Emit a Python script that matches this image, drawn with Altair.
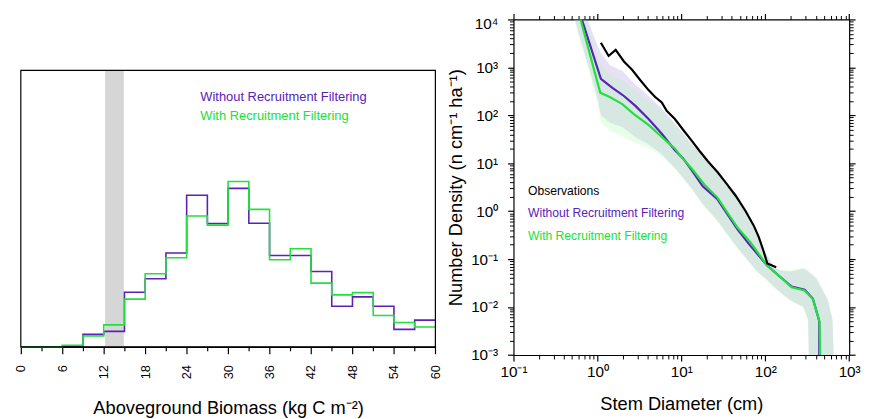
import altair as alt
import pandas as pd

FONT = "Liberation Sans"
PURPLE = "#5a22b8"
GREEN = "#20e03c"

# ---------------- left panel: aboveground biomass histogram ----------------
bin_left = [0, 3, 6, 9, 12, 15, 18, 21, 24, 27, 30, 33, 36, 39, 42, 45, 48, 51, 54, 57]
agb_without = [0, 0, 0.02, 0.90, 1.12, 3.95, 4.92, 6.78, 10.96, 8.92, 11.46, 8.94,
               6.61, 6.61, 5.45, 2.93, 3.61, 2.93, 1.26, 1.93]
agb_with = [0, 0, 0.12, 0.78, 1.59, 3.45, 5.28, 6.44, 9.46, 8.80, 11.96, 9.94,
            6.30, 7.09, 4.61, 3.76, 3.92, 2.26, 1.76, 1.43]
bin_right_edge = 60
obs_range = [12.2, 14.9]
frame_top = 20          # top of the histogram frame (value units)
left_domain_top = 23.68  # panel extends above the frame to line up with the right panel

# ---------------- right panel: size distribution ----------------
obs_d = [1.10, 1.36, 1.65, 2.07, 2.59, 3.25, 4.07, 4.88, 5.85, 6.69, 8.38, 10.5,
         13.2, 16.5, 20.7, 27.1, 34, 44.4, 58.4, 73, 84, 95, 106, 135]
obs_n = [3260, 1730, 2310, 1330, 893, 540, 336, 241, 185, 124, 83.8, 50,
         30, 18, 11, 6.5, 3.9, 2.1, 1.0, 0.5, 0.285, 0.15, 0.081, 0.068]

wo_d = [0.604, 1.10, 1.51, 2.07, 2.84, 4.07, 5.85, 8.38, 10.5, 13.2, 18.0, 27.1,
        32.4, 46.5, 63.7, 104.7, 150, 206, 295, 370, 440, 440]
wo_n = [15300, 574, 375, 253, 157, 83.8, 41.2, 18.7, 12.6, 7.26, 3.30, 1.75,
        1.09, 0.424, 0.208, 0.0747, 0.043, 0.0268, 0.0229, 0.0149, 0.0051, 0.0006]

w_d = [0.59, 1.08, 1.38, 1.98, 2.72, 4.07, 5.85, 8.38, 10.0, 13.2, 18.9, 27.1,
       32.4, 46.5, 66.5, 104.7, 150, 206, 295, 370, 444, 452]
w_n = [15300, 297, 245, 171, 106, 63.1, 35.2, 20.2, 13.6, 7.85, 3.57, 1.90,
       1.18, 0.459, 0.225, 0.0747, 0.043, 0.0259, 0.0222, 0.0146, 0.00487, 0.0006]

band_d = [0.5, 0.65, 0.8, 1.0, 1.1, 1.4, 2.0, 2.8, 4.0, 5.8, 8.4, 13, 18, 27, 46,
          64, 80, 100, 126, 150, 197, 283, 324, 335, 405, 556, 632, 670]
wo_lo = [16000, 3160, 933, 224, 100, 70.8, 56.2, 35.5, 25.1, 15.8, 7.94, 3.16, 1.41,
         0.631, 0.178, 0.0891, 0.0562, 0.0398, 0.0269, 0.0209, 0.0141, 0.0102, 0.0055,
         0.0003, 0.0003, 0.0003, 0.0003, 0.0003]
wo_hi = [100000, 25100, 7940, 2820, 2000, 1120, 832, 447, 263, 141, 67.6, 26.9, 14.1,
         6.31, 2.24, 0.891, 0.355, 0.141, 0.0708, 0.0589, 0.055, 0.0631, 0.0562,
         0.0525, 0.0398, 0.0141, 0.0055, 0.0003]
w_lo = [14100, 2820, 794, 186, 70.8, 47.9, 35.5, 26.3, 21.4, 14.1, 7.59, 3.02, 1.35,
        0.603, 0.17, 0.0851, 0.0537, 0.038, 0.0257, 0.02, 0.0135, 0.0098, 0.00525,
        0.0003, 0.0003, 0.0003, 0.0003, 0.0003]
w_hi = [79400, 20000, 6310, 1580, 1120, 708, 525, 316, 209, 126, 63.1, 25.7, 13.5,
        6.03, 2.14, 0.851, 0.339, 0.135, 0.0708, 0.0603, 0.0575, 0.0661, 0.0589,
        0.055, 0.0417, 0.0148, 0.00575, 0.0003]

legend_left = ["Without Recruitment Filtering", "With Recruitment Filtering"]
legend_right = ["Observations", "Without Recruitment Filtering", "With Recruitment Filtering"]

# ======================= build left panel =======================
xs_l = alt.Scale(domain=[0, 60], nice=False, zero=False)
ys_l = alt.Scale(domain=[0, left_domain_top], nice=False)

df_wo = pd.DataFrame({"x": bin_left + [bin_right_edge], "y": agb_without + [agb_without[-1]]})
df_w = pd.DataFrame({"x": bin_left + [bin_right_edge], "y": agb_with + [agb_with[-1]]})

shade = alt.Chart(pd.DataFrame({"a": [obs_range[0]], "b": [obs_range[1]], "y0": [0], "y1": [frame_top]})).mark_rect(
    color="#d6d6d6").encode(
    x=alt.X("a:Q", scale=xs_l, axis=None), x2="b:Q",
    y=alt.Y("y0:Q", scale=ys_l, axis=None), y2="y1:Q")

frame = alt.Chart(pd.DataFrame({"a": [0], "b": [bin_right_edge], "y0": [0], "y1": [frame_top]})).mark_rect(
    filled=False, stroke="black", strokeWidth=1.2).encode(
    x=alt.X("a:Q", scale=xs_l, axis=None), x2="b:Q",
    y=alt.Y("y0:Q", scale=ys_l, axis=None), y2="y1:Q")

hist_wo = alt.Chart(df_wo).mark_line(interpolate="step-after", color=PURPLE, strokeWidth=1.6).encode(
    x=alt.X("x:Q", scale=xs_l, axis=alt.Axis(
        orient="bottom", values=list(range(0, 61, 6)), labelAngle=270, tickSize=7, tickWidth=1.2,
        labelFontSize=13, labelPadding=11, title="Aboveground Biomass (kg C m⁻²)",
        titleFontSize=18.5, titlePadding=20, domainWidth=1.2, labelFlush=False)),
    y=alt.Y("y:Q", scale=ys_l, axis=None))

hist_w = alt.Chart(df_w).mark_line(interpolate="step-after", color=GREEN, strokeWidth=1.6).encode(
    x=alt.X("x:Q", scale=xs_l, axis=alt.Axis(
        orient="bottom", values=list(range(3, 60, 6)), labels=False, tickSize=4, tickWidth=1.2,
        domain=False, title=None)),
    y=alt.Y("y:Q", scale=ys_l, axis=None))

leg_l = alt.Chart(pd.DataFrame({"x": [25.97, 25.97], "y": [18.1, 16.67], "t": legend_left,
                                "c": [PURPLE, GREEN]})).mark_text(
    align="left", baseline="middle", font=FONT, fontSize=13.1).encode(
    x=alt.X("x:Q", scale=xs_l, axis=None), y=alt.Y("y:Q", scale=ys_l, axis=None),
    text="t:N", color=alt.Color("c:N", scale=None))

left = alt.layer(shade, hist_wo, hist_w, frame, leg_l).resolve_axis(x="independent").properties(
    width=420.4, height=332)

# ======================= build right panel =======================
xs_r = alt.Scale(type="log", domain=[0.1, 1000], nice=False)
ys_r = alt.Scale(type="log", domain=[0.001, 10000], nice=False)

x_major = [0.1, 1, 10, 100, 1000]
y_major = [0.001, 0.01, 0.1, 1, 10, 100, 1000, 10000]
x_minor = [m * 10.0 ** k for k in range(-1, 3) for m in range(2, 10)]
y_minor = [m * 10.0 ** k for k in range(-3, 4) for m in range(2, 10)]

x_lab = ("datum.value < 0.5 ? '10⁻¹' : datum.value < 5 ? '10⁰' : datum.value < 50 ? '10¹' : "
         "datum.value < 500 ? '10²' : '10³'")
y_lab = ("datum.value < 0.005 ? '10⁻³' : datum.value < 0.05 ? '10⁻²' : datum.value < 0.5 ? '10⁻¹' : "
         "datum.value < 5 ? '10⁰' : datum.value < 50 ? '10¹' : datum.value < 500 ? '10²' : "
         "datum.value < 5000 ? '10³' : '10⁴'")

ax_x_bottom = alt.Axis(orient="bottom", values=x_major, labelExpr=x_lab, tickSize=6, tickWidth=1.2,
                       labelFontSize=15.5, labelPadding=4, title="Stem Diameter (cm)", titleFontSize=18.5,
                       titlePadding=15, domainWidth=1.2, labelFlush=False)
ax_y_left = alt.Axis(orient="left", values=y_major, labelExpr=y_lab, tickSize=6, tickWidth=1.2,
                     labelFontSize=15.5, labelPadding=10, title="Number Density (n cm⁻¹ ha⁻¹)",
                     titleFontSize=18.5, titlePadding=5, domainWidth=1.2, labelFlush=False,
                     labelBaseline={"condition": {"test": "datum.value > 5000", "value": "top"},
                                    "value": "middle"},
                     labelOffset={"condition": {"test": "datum.value > 5000", "value": -3},
                                  "value": 0})
ax_x_bottom_minor = alt.Axis(orient="bottom", values=x_minor, labels=False, tickSize=4, tickWidth=1,
                             domain=False, title=None)
ax_y_left_minor = alt.Axis(orient="left", values=y_minor, labels=False, tickSize=4, tickWidth=1,
                           domain=False, title=None)
ax_x_top = alt.Axis(orient="top", values=x_major, labels=False, tickSize=6, tickWidth=1.2,
                    domainWidth=1.2, title=None)
ax_y_right = alt.Axis(orient="right", values=y_major, labels=False, tickSize=6, tickWidth=1.2,
                      domainWidth=1.2, title=None)
ax_x_top_minor = alt.Axis(orient="top", values=x_minor, labels=False, tickSize=4, tickWidth=1,
                          domain=False, title=None)
ax_y_right_minor = alt.Axis(orient="right", values=y_minor, labels=False, tickSize=4, tickWidth=1,
                            domain=False, title=None)

band_df_wo = pd.DataFrame({"d": band_d, "lo": wo_lo, "hi": wo_hi})
band_df_w = pd.DataFrame({"d": band_d, "lo": w_lo, "hi": w_hi})

band_wo = alt.Chart(band_df_wo).mark_area(color="#6630bc", opacity=0.15, clip=True).encode(
    x=alt.X("d:Q", scale=xs_r, axis=ax_x_bottom),
    y=alt.Y("lo:Q", scale=ys_r, axis=ax_y_left), y2="hi:Q")
band_w = alt.Chart(band_df_w).mark_area(color="#a0ffa9", opacity=0.25, clip=True).encode(
    x=alt.X("d:Q", scale=xs_r, axis=ax_x_bottom_minor),
    y=alt.Y("lo:Q", scale=ys_r, axis=ax_y_left_minor), y2="hi:Q")

line_wo = alt.Chart(pd.DataFrame({"d": wo_d, "n": wo_n, "i": list(range(len(wo_d)))})).mark_line(
    color=PURPLE, strokeWidth=2.2, clip=True).encode(
    x=alt.X("d:Q", scale=xs_r, axis=ax_x_top),
    y=alt.Y("n:Q", scale=ys_r, axis=ax_y_right), order="i:Q")
line_w = alt.Chart(pd.DataFrame({"d": w_d, "n": w_n, "i": list(range(len(w_d)))})).mark_line(
    color=GREEN, strokeWidth=2.2, clip=True).encode(
    x=alt.X("d:Q", scale=xs_r, axis=ax_x_top_minor),
    y=alt.Y("n:Q", scale=ys_r, axis=ax_y_right_minor), order="i:Q")
line_obs = alt.Chart(pd.DataFrame({"d": obs_d, "n": obs_n, "i": list(range(len(obs_d)))})).mark_line(
    color="black", strokeWidth=2.2, clip=True).encode(
    x=alt.X("d:Q", scale=xs_r, axis=None),
    y=alt.Y("n:Q", scale=ys_r, axis=None), order="i:Q")

leg_r = alt.Chart(pd.DataFrame({"x": [0.149, 0.149, 0.149], "y": [2.6, 0.918, 0.308], "t": legend_right,
                                "c": ["black", PURPLE, GREEN]})).mark_text(
    align="left", baseline="middle", font=FONT, fontSize=12.3).encode(
    x=alt.X("x:Q", scale=xs_r, axis=None), y=alt.Y("y:Q", scale=ys_r, axis=None),
    text="t:N", color=alt.Color("c:N", scale=None))

right = alt.layer(band_wo, band_w, line_wo, line_w, line_obs, leg_r).resolve_axis(
    x="independent", y="independent").properties(width=340.4, height=340.3)

chart = alt.hconcat(left, right, spacing=78.6, bounds="flush").properties(
    padding={"left": 7, "top": 1.7, "right": 0, "bottom": 0}
).configure_axis(
    domainColor="black", tickColor="black", labelColor="black", titleColor="black",
    labelFont=FONT, titleFont=FONT, titleFontWeight="normal", grid=False
).configure_view(strokeWidth=0)

chart.save("out.html", embed_options={"renderer": "svg", "actions": False})
